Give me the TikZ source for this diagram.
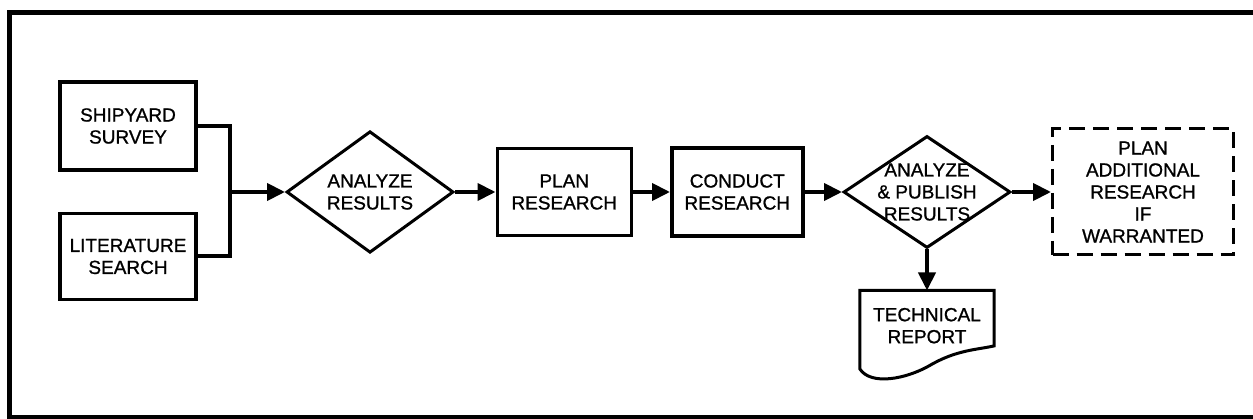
\documentclass[tikz,border=0pt]{standalone}
\usepackage{fontspec}
\setmainfont{Liberation Sans}[FakeBold=1]
\usetikzlibrary{positioning,shapes.geometric,arrows.meta}

\begin{document}
\begin{tikzpicture}[x=1pt, y=-1pt, node distance=40pt,
  every node/.style={align=center, font=\fontsize{19}{22}\selectfont},
  box/.style={draw, line width=3.5pt, inner sep=2pt},
  decision/.style={draw, diamond, line width=3pt, inner sep=0pt, minimum width=167pt, minimum height=112pt},
  link/.style={line width=4pt, -{Triangle[length=18pt,width=17pt]}}]
\useasboundingbox (0,0) rectangle (1253,419);
\draw[line width=5pt] (1260,12.5) -- (9,12.5) -- (9,418) -- (1260,418);

\node (survey) [box, minimum width=136pt, minimum height=88pt] at (128,126) {SHIPYARD\\SURVEY};
\node (lit) [box, minimum width=136pt, minimum height=86pt, below=40pt of survey] {LITERATURE\\SEARCH};
\node (analyze) [decision] at (370,192) {ANALYZE\\RESULTS};
\node (plan) [box, minimum width=134pt, minimum height=87pt, right=40.5pt of analyze] {PLAN\\RESEARCH};
\node (conduct) [box, minimum width=131pt, minimum height=88pt, right=37pt of plan] {CONDUCT\\RESEARCH};
\node (publish) [decision, right=37.5pt of conduct, label={[align=center]center:ANALYZE\\\& PUBLISH\\RESULTS}] {};
\node (further) [draw, line width=3pt, dash pattern=on 16pt off 8pt, minimum width=181pt, minimum height=126pt, right=39pt of publish] {PLAN\\ADDITIONAL\\RESEARCH\\IF\\WARRANTED};
\node (report) [minimum width=134pt, minimum height=70pt, below=41pt of publish] {TECHNICAL\\REPORT};
\draw[line width=3pt] ([yshift=-8pt]report.south west) -- (report.north west) -- (report.north east) -- ([yshift=15pt]report.south east)
  .. controls +(-18,4) and +(27,-16) .. ([xshift=2pt,yshift=-5pt]report.south)
  .. controls +(-23,13) and +(11,17) .. ([yshift=-8pt]report.south west) -- cycle;

\coordinate (join) at (230,192);
\draw[line width=4pt] (survey.east) -| (join) |- (lit.east);
\draw[link] (join) -- (analyze.west);
\draw[link] (analyze) -- (plan);
\draw[link] (plan) -- (conduct);
\draw[link] (conduct) -- (publish);
\draw[link] (publish) -- (further);
\draw[link] (publish.south) -- (report.north);
\end{tikzpicture}
\end{document}
